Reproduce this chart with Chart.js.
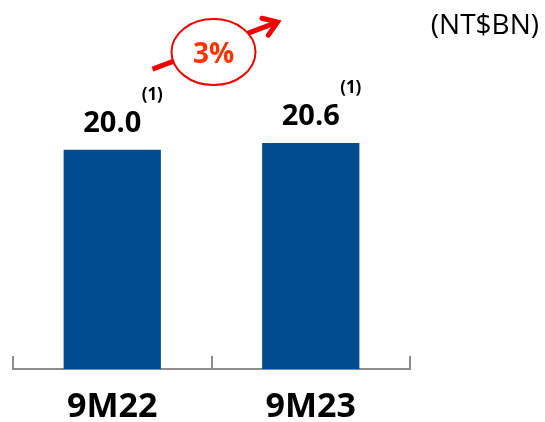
<!DOCTYPE html>
<html>
<head>
<meta charset="utf-8">
<script src="https://cdn.jsdelivr.net/npm/chart.js@4"></script>
<style>
  html, body { margin: 0; padding: 0; background: #fff; }
  #wrap { width: 545px; height: 422px; position: relative; }
</style>
</head>
<body>
<div id="wrap"><canvas id="chart"></canvas></div>
<script>
// chart data
const periods = ['9M22', '9M23'];
const revenue = [20.0, 20.6];
const footnotes = ['(1)', '(1)'];
const unitLabel = '(NT$BN)';

const BAR_BLUE = '#004C8E';
const FONT = '"Open Sans", "DejaVu Sans", sans-serif';

// value labels with the small footnote marker up and to the right
const valueLabels = {
    id: 'valueLabels',
    afterDatasetsDraw(chart) {
        const ctx = chart.ctx;
        const meta = chart.getDatasetMeta(0);
        ctx.save();
        meta.data.forEach((bar, i) => {
            ctx.fillStyle = '#000';
            ctx.textAlign = 'center';
            ctx.textBaseline = 'alphabetic';
            ctx.font = 'bold 29px ' + FONT;
            ctx.fillText(revenue[i].toFixed(1), bar.x, bar.y - 18);
            ctx.font = 'bold 17px ' + FONT;
            ctx.fillText(footnotes[i], bar.x + 40, bar.y - 50);
        });
        ctx.restore();
    }
};

// upward tick marks at category boundaries + unit label
const axisDecor = {
    id: 'axisDecor',
    afterDraw(chart) {
        const ctx = chart.ctx;
        const x = chart.scales.x;
        const area = chart.chartArea;
        const step = (x.getPixelForTick(1) - x.getPixelForTick(0));
        ctx.save();
        ctx.strokeStyle = '#8c8c8c';
        ctx.lineWidth = 2;
        for (let i = 0; i <= periods.length; i++) {
            const px = Math.round(x.getPixelForTick(0) - step / 2 + i * step);
            ctx.beginPath();
            ctx.moveTo(px, area.bottom);
            ctx.lineTo(px, area.bottom - 13);
            ctx.stroke();
        }
        ctx.fillStyle = '#000';
        ctx.font = '28px ' + FONT;
        ctx.textAlign = 'right';
        ctx.textBaseline = 'middle';
        ctx.fillText(unitLabel, chart.width - 6, 26);
        ctx.restore();
    }
};

// growth arrow with the percentage in an ellipse
const growthArrow = {
    id: 'growthArrow',
    afterDraw(chart) {
        const ctx = chart.ctx;
        const x = chart.scales.x, y = chart.scales.y;
        const mid = (x.getPixelForTick(0) + x.getPixelForTick(1)) / 2 + 2;
        const cy = y.getPixelForValue(28.9);
        const growth = Math.round((revenue[1] / revenue[0] - 1) * 100);

        const ax = mid - 61, ay = cy + 17;
        const bx = mid + 64, by = cy - 30;
        ctx.save();
        ctx.strokeStyle = '#f00000';
        ctx.lineCap = 'butt';
        ctx.lineWidth = 5;
        ctx.beginPath();
        ctx.moveTo(ax, ay);
        ctx.lineTo(bx, by);
        ctx.stroke();
        // arrow head
        const ang = Math.atan2(by - ay, bx - ax);
        ctx.lineCap = 'round';
        ctx.lineJoin = 'miter';
        ctx.beginPath();
        ctx.moveTo(bx - 16 * Math.cos(ang - 0.6), by - 16 * Math.sin(ang - 0.6));
        ctx.lineTo(bx, by);
        ctx.lineTo(bx - 16 * Math.cos(ang + 0.6), by - 16 * Math.sin(ang + 0.6));
        ctx.stroke();

        ctx.beginPath();
        ctx.ellipse(mid, cy, 42, 33, 0, 0, Math.PI * 2);
        ctx.fillStyle = '#fff';
        ctx.fill();
        ctx.lineWidth = 2;
        ctx.strokeStyle = '#f00000';
        ctx.stroke();

        ctx.fillStyle = '#ff3300';
        ctx.font = 'bold 28px ' + FONT;
        ctx.textAlign = 'center';
        ctx.textBaseline = 'middle';
        ctx.fillText(growth + '%', mid, cy + 3);
        ctx.restore();
    }
};

new Chart(document.getElementById('chart'), {
    type: 'bar',
    data: {
        labels: periods,
        datasets: [{
            data: revenue,
            backgroundColor: BAR_BLUE,
            barPercentage: 0.49,
            categoryPercentage: 1.0
        }]
    },
    options: {
        responsive: true,
        maintainAspectRatio: false,
        animation: false,
        layout: { padding: { top: 40, left: 13, right: 135, bottom: 0 } },
        plugins: {
            legend: { display: false },
            tooltip: { enabled: false }
        },
        scales: {
            x: {
                grid: { display: false, drawTicks: false },
                border: { display: true, color: '#8c8c8c', width: 2 },
                ticks: {
                    color: '#000',
                    padding: 18,
                    font: { family: FONT, size: 34, weight: 'bold' }
                },
                afterFit(scale) { scale.height = 53; }
            },
            y: {
                display: false,
                min: 0,
                max: 30
            }
        }
    },
    plugins: [valueLabels, axisDecor, growthArrow]
});
</script>
</body>
</html>
